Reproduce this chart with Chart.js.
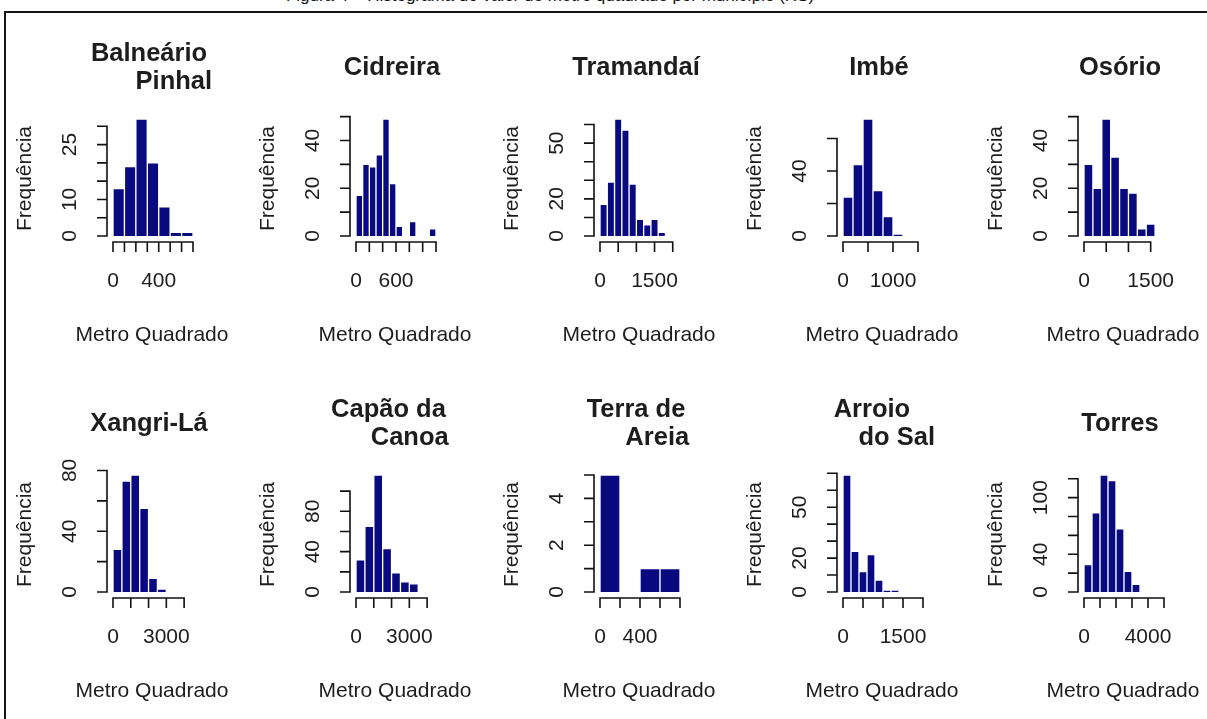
<!DOCTYPE html>
<html lang="pt">
<head>
<meta charset="utf-8">
<title>Histogramas - Metro Quadrado por município</title>
<script src="https://cdn.jsdelivr.net/npm/chart.js@4/dist/chart.umd.min.js"></script>
<style>
  html, body { margin: 0; padding: 0; background: #fff; width: 1207px; height: 719px; overflow: hidden; }
  #stage { position: relative; width: 1207px; height: 719px; overflow: hidden; }
  #frame { position: absolute; left: 4px; top: 11px; width: 1230px; height: 730px; border: 2px solid #151515; box-sizing: border-box; }
  #caption { position: absolute; left: 0; width: 1100px; text-align: center; top: -14px; font: 17px "Liberation Sans", Arial, sans-serif; color: #111; white-space: nowrap; }
  canvas { position: absolute; }
</style>
</head>
<body>
<div id="stage">
  <div id="caption">Figura 4 – Histograma do valor do metro quadrado por município (RS)</div>
  <div id="frame"></div>
</div>
<script>
// ---------- data ----------
const titles = [
  ["Balneário", "       Pinhal"],
  ["Cidreira"],
  ["Tramandaí"],
  ["Imbé"],
  ["Osório"],
  ["Xangri-Lá"],
  ["Capão da ", "     Canoa"],
  ["Terra de", "      Areia"],
  ["Arroio  ", "     do Sal"],
  ["Torres"]
];
const yAxisTitle = "Frequência";
const xAxisTitle = "Metro Quadrado";

const binWidths = [100, 100, 200, 200, 200, 500, 500, 200, 200, 500];

const freqBalnearioPinhal = [13, 19, 32, 20, 8, 1, 1];
const freqCidreira       = [17, 30, 29, 34, 49, 22, 4, 0, 6, 0, 0, 3];
const freqTramandai      = [17, 29, 63, 57, 28, 9, 6, 9, 2, 0, 0];
const freqImbe           = [24, 44, 72, 28, 12, 1, 0, 0];
const freqOsorio         = [30, 20, 49, 33, 20, 18, 3, 5, 0];
const freqXangriLa       = [28, 73, 77, 55, 9, 2, 0, 0, 0];
const freqCapaoDaCanoa   = [32, 65, 116, 43, 19, 10, 8, 0, 0];
const freqTerraDeAreia   = [5, 0, 1, 1];
const freqArroioDoSal    = [69, 24, 12, 22, 7, 1, 1, 0, 0, 0];
const freqTorres         = [29, 84, 124, 118, 67, 22, 8, 0, 0, 0];

const frequencies = [freqBalnearioPinhal, freqCidreira, freqTramandai, freqImbe, freqOsorio,
                     freqXangriLa, freqCapaoDaCanoa, freqTerraDeAreia, freqArroioDoSal, freqTorres];

const yTicks = [
  [0, 5, 10, 15, 20, 25, 30],
  [0, 10, 20, 30, 40, 50],
  [0, 10, 20, 30, 40, 50, 60],
  [0, 20, 40, 60],
  [0, 10, 20, 30, 40, 50],
  [0, 20, 40, 60, 80],
  [0, 20, 40, 60, 80, 100],
  [0, 1, 2, 3, 4, 5],
  [0, 10, 20, 30, 40, 50, 60, 70],
  [0, 20, 40, 60, 80, 100, 120]
];
const yTickLabels = [
  ["0", "", "10", "", "", "25", ""],
  ["0", "", "20", "", "40", ""],
  ["0", "", "20", "", "", "50", ""],
  ["0", "", "40", ""],
  ["0", "", "20", "", "40", ""],
  ["0", "", "40", "", "80"],
  ["0", "", "40", "", "80", ""],
  ["0", "", "2", "", "4", ""],
  ["0", "", "20", "", "", "50", "", ""],
  ["0", "", "40", "", "", "100", ""]
];
const xTicks = [
  [0, 100, 200, 300, 400, 500, 600, 700],
  [0, 200, 400, 600, 800, 1000, 1200],
  [0, 500, 1000, 1500, 2000],
  [0, 500, 1000, 1500],
  [0, 500, 1000, 1500],
  [0, 1000, 2000, 3000, 4000],
  [0, 1000, 2000, 3000, 4000],
  [0, 200, 400, 600, 800],
  [0, 500, 1000, 1500, 2000],
  [0, 1000, 2000, 3000, 4000, 5000]
];
const xTickLabels = [
  ["0", "", "", "", "400", "", "", ""],
  ["0", "", "", "600", "", "", ""],
  ["0", "", "", "1500", ""],
  ["0", "", "1000", ""],
  ["0", "", "", "1500"],
  ["0", "", "", "3000", ""],
  ["0", "", "", "3000", ""],
  ["0", "", "400", "", ""],
  ["0", "", "", "1500", ""],
  ["0", "", "", "", "4000", ""]
];

// ---------- layout ----------
const PANEL_W = 243, PANEL_H = 356;
const colAxisX = [107, 350, 594, 837, 1078];
const rowTop = [0, 356];
const AX = 107;            // y axis x inside a panel
const DATA_W = 80;         // pixel width of the break range
const GAP_X = 6;           // gap between y axis and first break
const TOP = 119, BASE = 236, AXIS_Y = 242;
const BAR_COLOR = '#0a0a80';
const TEXT = '#1d1d1d';
const FONT = '"Liberation Sans", Arial, Helvetica, sans-serif';

function rAxesPlugin(k) {
  return {
    id: 'rAxes' + k,
    afterDraw(chart) {
      const ctx = chart.ctx, x = chart.scales.x, y = chart.scales.y, a = chart.chartArea;
      const ax = a.left, ay = a.bottom;
      const yt = yTicks[k], xt = xTicks[k];
      ctx.save();
      ctx.strokeStyle = '#111';
      ctx.lineWidth = 1.6;
      ctx.beginPath();
      ctx.moveTo(ax, y.getPixelForValue(yt[0]));
      ctx.lineTo(ax, y.getPixelForValue(yt[yt.length - 1]));
      yt.forEach(v => { const py = y.getPixelForValue(v); ctx.moveTo(ax + 0.8, py); ctx.lineTo(ax - 10, py); });
      ctx.moveTo(x.getPixelForValue(xt[0]), ay);
      ctx.lineTo(x.getPixelForValue(xt[xt.length - 1]), ay);
      xt.forEach(v => { const px = x.getPixelForValue(v); ctx.moveTo(px, ay - 0.8); ctx.lineTo(px, ay + 10); });
      ctx.stroke();

      ctx.fillStyle = TEXT;
      ctx.font = '21px ' + FONT;
      ctx.textAlign = 'center';
      ctx.textBaseline = 'alphabetic';
      xTickLabels[k].forEach((s, i) => { if (s) ctx.fillText(s, x.getPixelForValue(xt[i]), ay + 45); });
      yTickLabels[k].forEach((s, i) => {
        if (!s) return;
        ctx.save();
        ctx.translate(ax - 31, y.getPixelForValue(yt[i]));
        ctx.rotate(-Math.PI / 2);
        ctx.fillText(s, 0, 0);
        ctx.restore();
      });
      // axis titles
      ctx.fillText(xAxisTitle, ax + 45, ay + 99);
      ctx.save();
      ctx.translate(ax - 76, (a.top + a.bottom) / 2 - 2);
      ctx.rotate(-Math.PI / 2);
      ctx.fillText(yAxisTitle, 0, 0);
      ctx.restore();
      // main title
      ctx.font = 'bold 25.5px ' + FONT;
      const lines = titles[k];
      const cx = ax + 42;
      if (lines.length === 1) {
        ctx.fillText(lines[0], cx, a.top - 44);
      } else {
        ctx.fillText(lines[0], cx, a.top - 58);
        ctx.fillText(lines[1], cx, a.top - 30);
      }
      ctx.restore();
    }
  };
}

const stage = document.getElementById('stage');
frequencies.forEach((counts, k) => {
  const col = k % 5, row = Math.floor(k / 5);
  const cv = document.createElement('canvas');
  cv.width = PANEL_W; cv.height = PANEL_H;
  cv.style.left = (colAxisX[col] - AX) + 'px';
  cv.style.top = rowTop[row] + 'px';
  cv.style.width = PANEL_W + 'px'; cv.style.height = PANEL_H + 'px';
  stage.appendChild(cv);

  const bw = binWidths[k];
  const range = counts.length * bw;
  const maxCount = Math.max(...counts);
  const right = AX + GAP_X + DATA_W;

  new Chart(cv, {
    type: 'bar',
    data: {
      datasets: [{
        data: counts.map((c, i) => ({ x: (i + 0.5) * bw, y: c })),
        backgroundColor: BAR_COLOR,
        borderColor: '#ffffff',
        borderWidth: 1,
        barPercentage: 1,
        categoryPercentage: 1
      }]
    },
    options: {
      responsive: false,
      animation: false,
      devicePixelRatio: 1,
      events: [],
      layout: { padding: { left: AX, right: PANEL_W - right, top: TOP, bottom: PANEL_H - AXIS_Y } },
      plugins: { legend: { display: false }, tooltip: { enabled: false }, title: { display: false } },
      scales: {
        x: { type: 'linear', display: false, offset: false, min: -range * GAP_X / DATA_W, max: range },
        y: { type: 'linear', display: false, min: -maxCount * (AXIS_Y - BASE) / (BASE - TOP), max: maxCount }
      }
    },
    plugins: [rAxesPlugin(k)]
  });
});
</script>
</body>
</html>
